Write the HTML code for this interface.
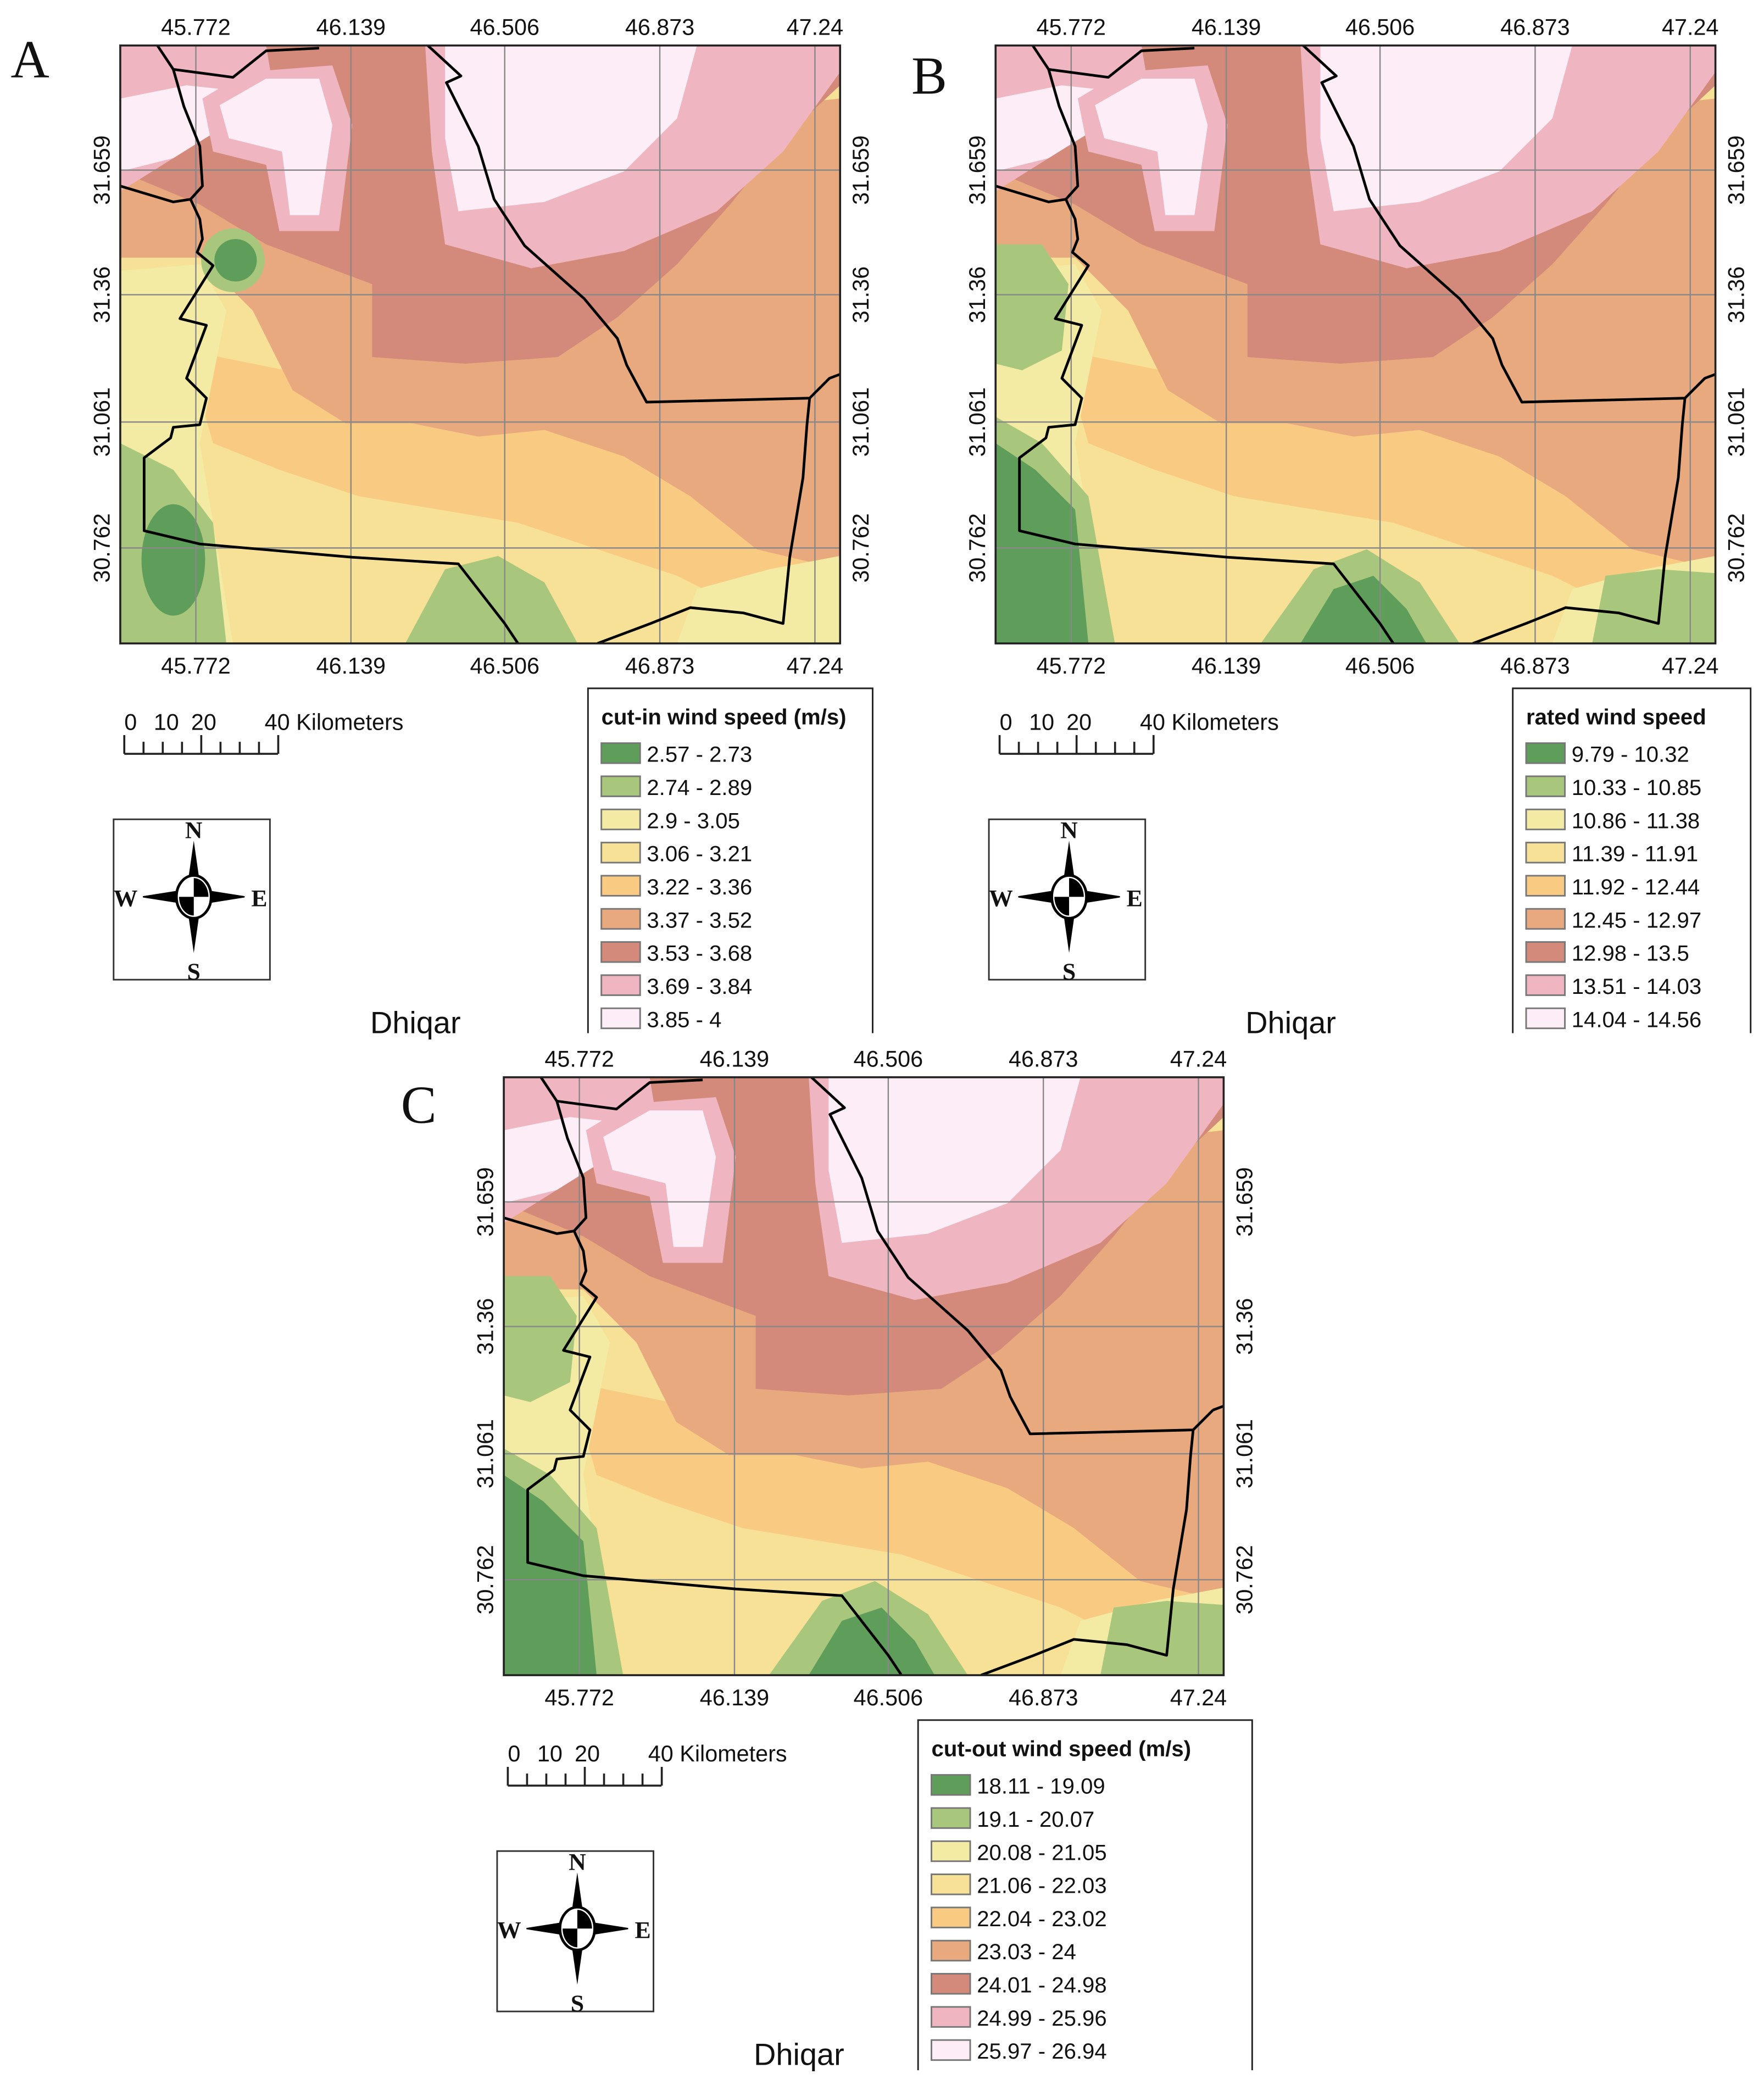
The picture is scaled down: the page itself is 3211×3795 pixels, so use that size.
<!DOCTYPE html>
<html><head><meta charset="utf-8"><style>
html,body{margin:0;padding:0;background:#fff}
svg{display:block}
text{font-family:"Liberation Sans",sans-serif;fill:#111}
.serif{font-family:"Liberation Serif",serif}
</style></head><body>
<svg id="root" width="3211" height="3795" viewBox="0 0 1320 1560" xmlns="http://www.w3.org/2000/svg">
<defs>
<clipPath id="mc"><rect x="0" y="0" width="543" height="451"/></clipPath>
<g id="fillbase">
  <rect x="0" y="0" width="543" height="451" fill="#f6e196"/>
  <path d="M50 230 L150 250 L230 275 L330 290 L430 320 L543 340 L543 440 L480 430 L420 400 L360 380 L300 360 L240 350 L180 340 L120 320 L70 300 Z" fill="#f9cb82"/>
  <path d="M0 100 L543 40 L543 395 L480 380 L430 340 L380 310 L320 290 L270 295 L220 285 L170 285 L130 260 L100 200 L60 160 L0 160 Z" fill="#e8a97e"/>
  <path d="M0 95 L60 120 L110 150 L190 180 L190 235 L260 240 L330 235 L375 205 L420 165 L460 120 L500 70 L543 30 L543 0 L0 0 Z" fill="#d38a7a"/>
  <path d="M0 0 L110 0 L115 30 L80 60 L40 85 L0 110 Z" fill="#efb5c0"/>
  <path d="M0 40 L50 30 L95 35 L80 60 L40 85 L0 95 Z" fill="#fcedf6"/>
  <path d="M95 20 L160 15 L175 60 L165 140 L120 140 L110 90 L70 80 L62 40 Z" fill="#efb5c0"/>
  <path d="M110 25 L150 25 L160 60 L150 128 L128 128 L122 80 L82 70 L75 45 Z" fill="#fcedf6"/>
  <path d="M230 0 L543 0 L543 20 L500 80 L450 125 L380 155 L310 168 L245 150 L235 80 Z" fill="#efb5c0"/>
  <path d="M245 0 L435 0 L420 55 L380 95 L320 118 L255 125 L245 70 Z" fill="#fcedf6"/>
  <path d="M0 170 L60 165 L80 200 L60 300 L85 451 L0 451 Z" fill="#f3eba3"/>
  <path d="M420 451 L435 410 L490 395 L543 385 L543 451 Z" fill="#f3eba3"/>
  <path d="M0 300 L40 320 L70 360 L80 451 L0 451 Z" fill="#a9c77c"/>
  <path d="M215 451 L245 395 L285 385 L320 405 L345 451 Z" fill="#a9c77c"/>
  <ellipse cx="40" cy="388" rx="24" ry="42" fill="#5e9d5a"/>
</g>
<g id="linesbase">
  <g stroke="#888" stroke-width="1" fill="none">
    <line x1="57" y1="0" x2="57" y2="451"/><line x1="174" y1="0" x2="174" y2="451"/>
    <line x1="290" y1="0" x2="290" y2="451"/><line x1="407" y1="0" x2="407" y2="451"/>
    <line x1="524" y1="0" x2="524" y2="451"/>
    <line x1="0" y1="94" x2="543" y2="94"/><line x1="0" y1="188" x2="543" y2="188"/>
    <line x1="0" y1="284" x2="543" y2="284"/><line x1="0" y1="379" x2="543" y2="379"/>
  </g>
  <g stroke="#000" stroke-width="2" fill="none" stroke-linejoin="round">
    <polyline points="0,106 40,118 53,116 60,131 62,146 58,156 70,166 45,206 65,211 50,251 65,266 60,286 40,288 38,296 18,311 18,366 60,376 175,386 255,391 290,436 300,451"/>
    <polyline points="28,0 40,18 48,46 60,76 62,106 53,116"/>
    <polyline points="40,18 85,24 110,4 150,2"/>
    <polyline points="232,0 257,23 246,28 270,76 282,116 305,151 350,191 375,221 382,241 390,256 397,269 520,266 535,251 543,248"/>
    <polyline points="520,266 518,286 515,326 505,386 500,436 470,428 430,424 400,436 360,451"/>
  </g>
</g>
<g id="extraA">
  <circle cx="85" cy="162" r="24" fill="#a9c77c"/>
  <circle cx="87" cy="162" r="16" fill="#5e9d5a"/>
</g>
<g id="extraB">
  <path d="M0 150 L35 150 L55 180 L50 230 L20 245 L0 240 Z" fill="#a9c77c"/>
  <path d="M0 280 L35 300 L70 340 L90 451 L0 451 Z" fill="#a9c77c"/>
  <path d="M0 300 L30 320 L60 350 L70 451 L0 451 Z" fill="#5e9d5a"/>
  <path d="M200 451 L240 395 L280 380 L320 405 L350 451 Z" fill="#a9c77c"/>
  <path d="M230 451 L255 410 L285 400 L310 425 L325 451 Z" fill="#5e9d5a"/>
  <path d="M450 451 L460 400 L500 395 L543 398 L543 451 Z" fill="#a9c77c"/>
</g>
</defs>
<g id="figs"></g>
</svg>
<script>
const NS="http://www.w3.org/2000/svg";
const xTicks=["45.772","46.139","46.506","46.873","47.24"];
const xTickPos=[57,174,290,407,524];
const yTicks=["31.659","31.36","31.061","30.762"];
const yTickPos=[94,188,284,379];
const legendA=["2.57 - 2.73","2.74 - 2.89","2.9 - 3.05","3.06 - 3.21","3.22 - 3.36","3.37 - 3.52","3.53 - 3.68","3.69 - 3.84","3.85 - 4"];
const legendB=["9.79 - 10.32","10.33 - 10.85","10.86 - 11.38","11.39 - 11.91","11.92 - 12.44","12.45 - 12.97","12.98 - 13.5","13.51 - 14.03","14.04 - 14.56"];
const legendC=["18.11 - 19.09","19.1 - 20.07","20.08 - 21.05","21.06 - 22.03","22.04 - 23.02","23.03 - 24","24.01 - 24.98","24.99 - 25.96","25.97 - 26.94"];
const classColors=["#5e9d5a","#a9c77c","#f3eba3","#f6e196","#f9cb82","#e8a97e","#d38a7a","#efb5c0","#fcedf6"];
const S=0.992;
const root=document.getElementById('figs');
function el(t,a,p){const e=document.createElementNS(NS,t);for(const k in a)e.setAttribute(k,a[k]);(p||root).appendChild(e);return e;}
function txt(s,a,p){const e=el('text',a,p);e.textContent=s;return e;}
function panel(letter,lx,ly,mx,my,title,items,lgx,lgw,lgy,lgh,extra){
  const g=el('g',{});
  
  
  const l=txt(letter,{x:lx,y:ly,'font-size':40,class:'serif'},g);
  
  
  const mg=el('g',{transform:`translate(${mx},${my}) scale(${S})`},g);
  
  
  const cg0=el('g',{'clip-path':'url(#mc)'},mg);
  el('use',{href:'#fillbase'},cg0);
  el('use',{href:'#'+extra},cg0);
  el('use',{href:'#linesbase'},cg0);
  el('rect',{x:0,y:0,width:543,height:451,fill:'none',stroke:'#222','stroke-width':1.5},mg);
  xTicks.forEach((t,i)=>{
    const a=txt(t,{x:mx+xTickPos[i]*S,y:my-8,'font-size':17,'text-anchor':'middle'},g);
    
    
    const b=txt(t,{x:mx+xTickPos[i]*S,y:my+470,'font-size':17,'text-anchor':'middle'},g);
    
    
  });
  yTicks.forEach((t,i)=>{
    const y=my+yTickPos[i]*S;
    const a=txt(t,{x:0,y:0,'font-size':17,'text-anchor':'middle',transform:`translate(${mx-8},${y}) rotate(-90)`},g);
    
    
    const b=txt(t,{x:0,y:0,'font-size':17,'text-anchor':'middle',transform:`translate(${mx+560},${y}) rotate(-90)`},g);
    
    
  });
  const sx=mx+3, sy=my+500;
  const sg=el('g',{'font-size':17},g);
  
  
  [['0',0],['10',22],['20',50],['40 Kilometers',105]].forEach(d=>txt(d[0],{x:sx+d[1],y:sy+12},sg));
  const sb=el('g',{stroke:'#222','stroke-width':1.5,fill:'none'},g);
  
  
  el('line',{x1:sx,y1:sy+30,x2:sx+115,y2:sy+30},sb);
  for(let i=0;i<=8;i++){const h=(i==0||i==4||i==8)?14:9;el('line',{x1:sx+i*14.4,y1:sy+30,x2:sx+i*14.4,y2:sy+30-h},sb);}
  const cx0=mx-5, cy0=my+579;
  const cg=el('g',{},g);
  
  
  el('rect',{x:cx0,y:cy0,width:117,height:120,fill:'#fff',stroke:'#333','stroke-width':1.2},cg);
  const cx=cx0+60, cy=cy0+58;
  el('polygon',{points:`${cx},${cy-42} ${cx+6},${cy} ${cx},${cy+42} ${cx-6},${cy}`,fill:'#000'},cg);
  el('polygon',{points:`${cx-38},${cy} ${cx},${cy-6} ${cx+38},${cy} ${cx},${cy+6}`,fill:'#000',stroke:'#000'},cg);
  el('ellipse',{cx:cx,cy:cy,rx:13,ry:16,fill:'#fff',stroke:'#000','stroke-width':2},cg);
  el('path',{d:`M${cx} ${cy-14} A11 14 0 0 1 ${cx+11} ${cy} L${cx} ${cy} Z M${cx} ${cy+14} A11 14 0 0 1 ${cx-11} ${cy} L${cx} ${cy} Z`,fill:'#000'},cg);
  [['N',cx,cy0+14],['S',cx,cy0+120],['W',cx0+9,cy+7],['E',cx0+109,cy+7]].forEach(d=>{
    txt(d[0],{x:d[1],y:d[2],'font-size':18,'text-anchor':'middle',class:'serif','font-weight':'bold'},cg);
  });
  const dq=txt('Dhiqar',{x:mx+187,y:my+739,'font-size':23},g);
  
  
  const lg=el('g',{},g);
  
  
  el('path',{d:`M${lgx} ${lgy+lgh} L${lgx} ${lgy} L${lgx+lgw} ${lgy} L${lgx+lgw} ${lgy+lgh}`,fill:'none',stroke:'#222','stroke-width':1.2},lg);
  const lt=txt(title,{x:lgx+10,y:lgy+27,'font-size':16.5,'font-weight':'bold'},lg);
  
  
  items.forEach((s,i)=>{
    const y=lgy+41+i*24.8;
    const r=el('rect',{x:lgx+10,y:y,width:29,height:15,fill:classColors[i],stroke:'#777','stroke-width':1.2},lg);
    
    
    const t=txt(s,{x:lgx+44,y:y+14,'font-size':16.5},lg);
    
    
  });
}
panel('A',8,58,90,34,'cut-in wind speed (m/s)',legendA,440,213,515,258,'extraA');
panel('B',682,70,745,34,'rated wind speed',legendB,1132,178,515,258,'extraB');
panel('C',300,840,377,806,'cut-out wind speed (m/s)',legendC,687,250,1287,262,'extraB');
</script>
</body></html>
